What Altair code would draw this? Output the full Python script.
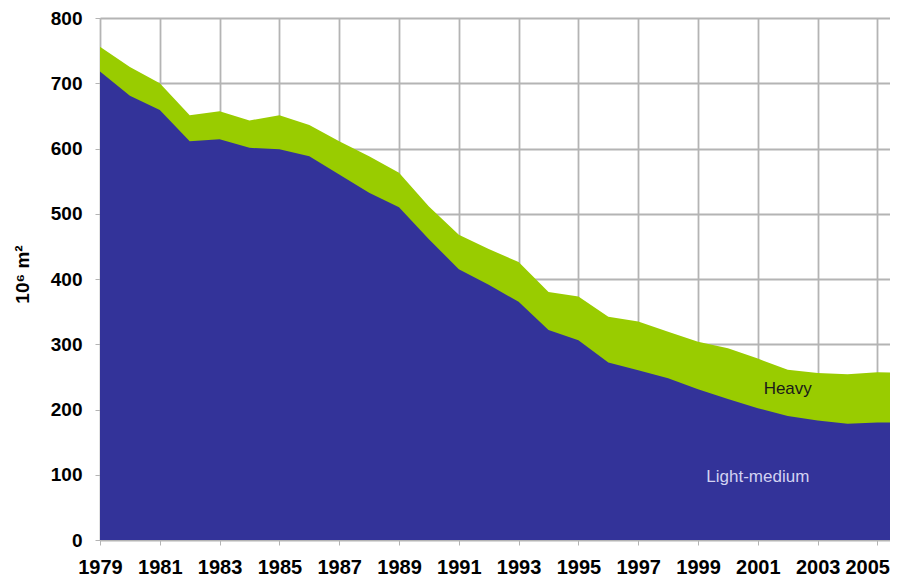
import altair as alt
import pandas as pd

years = list(range(1979, 2007))
light_medium = [718, 681, 659, 611, 614, 601, 599, 588, 560, 532, 510, 461, 415, 391,
                365, 322, 306, 272, 260, 248, 231, 216, 202, 190, 183, 178, 180, 180]
heavy = [38, 44, 41, 40, 43, 42, 52, 48, 51, 56, 53, 50, 53, 55,
         61, 58, 67, 70, 75, 71, 73, 78, 76, 71, 73, 76, 77, 76]
x_ticks = list(range(1979, 2006, 2))
y_ticks = list(range(0, 801, 100))

label_text = ["Heavy", "Light-medium"]
label_year = [2002.0, 2001.0]
label_value = [231, 96]
label_color = ["#1a1a1a", "#d2d2f2"]

df = pd.DataFrame({
    "year": years,
    "light": light_medium,
    "total": [a + b for a, b in zip(light_medium, heavy)],
})
labels = pd.DataFrame({"text": label_text, "year": label_year,
                       "value": label_value, "color": label_color})

xscale = alt.Scale(domain=[1979, 2005.42], nice=False, zero=False)
yscale = alt.Scale(domain=[0, 800], nice=False)

x_axis = alt.Axis(values=x_ticks, format="d", title=None, grid=True,
                  gridColor="#b4b4b4", gridWidth=1.8, labelFont="Liberation Sans",
                  labelFontWeight="bold", labelFontSize=20, labelColor="#000",
                  tickColor="#b4b4b4", tickSize=5, domain=False, labelPadding=12,
                  labelFlush=False, labelOverlap=False,
                  labelAlign={"condition": {"test": "datum.value == 2005", "value": "right"},
                              "value": "center"},
                  labelOffset={"condition": {"test": "datum.value == 2005", "value": 12},
                               "value": 0})
y_axis = alt.Axis(values=y_ticks, title="10⁶ m²", grid=True, gridColor="#b4b4b4",
                  gridWidth=1.8, labelFont="Liberation Sans", labelFontWeight="bold",
                  labelFontSize=19, labelColor="#000", tickColor="#b4b4b4", tickSize=5,
                  domain=False, labelPadding=13, titleFont="Liberation Sans",
                  titleFontWeight="bold", titleFontSize=19, titleColor="#000",
                  titleX=-78, titleY=256, titleAngle=270, titleAlign="center",
                  titleBaseline="middle")

green = alt.Chart(df).mark_area(color="#99cc00", clip=True, opacity=1).encode(
    x=alt.X("year:Q", scale=xscale, axis=x_axis),
    y=alt.Y("total:Q", scale=yscale, axis=y_axis),
)
blue = alt.Chart(df).mark_area(color="#333399", clip=True, opacity=1).encode(
    x=alt.X("year:Q", scale=xscale),
    y=alt.Y("light:Q", scale=yscale),
)
text = alt.Chart(labels).mark_text(font="Liberation Sans", fontSize=17,
                                   align="center", baseline="middle").encode(
    x=alt.X("year:Q", scale=xscale),
    y=alt.Y("value:Q", scale=yscale),
    text="text:N",
    color=alt.Color("color:N", scale=None),
)

chart = (green + blue + text).properties(
    width=790, height=522,
    autosize=alt.AutoSizeParams(type="none"),
    padding={"left": 92, "top": 10, "right": 0, "bottom": 46},
).configure_view(stroke=None).configure(background="white")

chart.save("out.html", embed_options={"renderer": "svg", "actions": False})
